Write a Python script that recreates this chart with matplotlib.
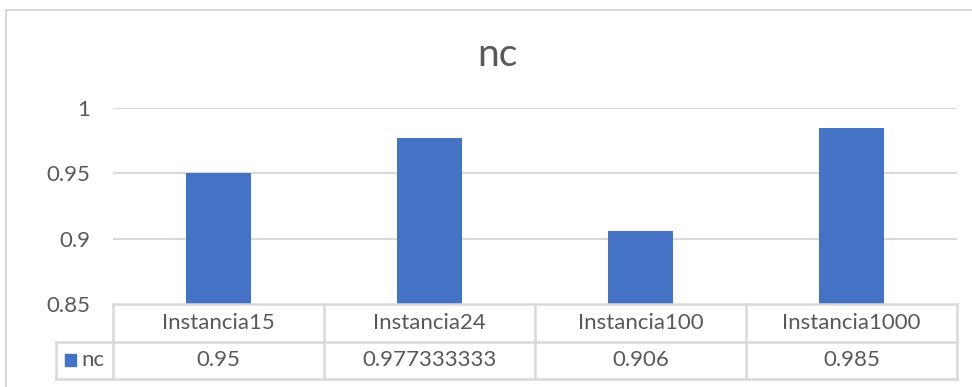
import matplotlib.pyplot as plt
from matplotlib.lines import Line2D
from matplotlib.patches import Rectangle
from matplotlib.transforms import blended_transform_factory

categories = ['Instancia15', 'Instancia24', 'Instancia100', 'Instancia1000']
values = [0.95, 0.977333333, 0.906, 0.985]
value_labels = ['0.95', '0.977333333', '0.906', '0.985']
series_name = 'nc'
y_ticks = [0.85, 0.9, 0.95, 1.0]
y_tick_labels = ['0.85', '0.9', '0.95', '1']

W, H = 972, 387
bar_color = '#4472C4'
text_color = '#595959'
line_color = '#D9D9D9'

plt.rcParams['font.family'] = ['Lato', 'DejaVu Sans']

fig = plt.figure(figsize=(W / 100, H / 100), dpi=100)


def fy(y):
    # pixel row from the top -> figure fraction
    return 1 - y / H


ax = fig.add_axes([113 / W, fy(304), (957 - 113) / W, (304 - 108) / H])

xs = list(range(len(categories)))
ax.bar(xs, values, width=0.31, color=bar_color, zorder=3)
ax.set_xlim(-0.5, len(categories) - 0.5)
ax.set_ylim(0.85, 1.0)
ax.set_yticks(y_ticks)
ax.set_yticklabels(y_tick_labels)
ax.set_xticks([])
ax.tick_params(axis='y', length=0, pad=16.5, labelsize=16, labelcolor=text_color)
for s in ax.spines.values():
    s.set_visible(False)
for t in y_ticks[1:]:
    ax.axhline(t, color=line_color, lw=1.5, zorder=1)

fig.text(497 / W, fy(55), series_name, ha='center', va='center',
         fontsize=28, color=text_color)

# data table under the plot: x follows the category axis, y in figure pixels
tr = blended_transform_factory(ax.transData, fig.transFigure)
row_top, row_mid, row_bot = 304, 342, 379
x_left = -0.5
x_right = len(categories) - 0.5
x_label = -0.5 - (113 - 56) / ((957 - 113) / len(categories))


def hline(x0, x1, y):
    fig.add_artist(Line2D([x0, x1], [fy(y), fy(y)], transform=tr,
                          color=line_color, lw=1.8))


def vline(x, y0, y1):
    fig.add_artist(Line2D([x, x], [fy(y0), fy(y1)], transform=tr,
                          color=line_color, lw=1.8))


hline(x_left, x_right, row_top)
hline(x_label, x_right, row_mid)
hline(x_label, x_right, row_bot)
for b in range(len(categories) + 1):
    vline(b - 0.5, row_top, row_bot)
vline(x_label, row_mid, row_bot)

for i, (cat, lab) in enumerate(zip(categories, value_labels)):
    fig.text(i, fy((row_top + row_mid) / 2), cat, transform=tr,
             ha='center', va='center', fontsize=16, color=text_color)
    fig.text(i, fy((row_mid + row_bot) / 2), lab, transform=tr,
             ha='center', va='center', fontsize=16, color=text_color)

# legend key in the row header
fig.add_artist(Rectangle((65 / W, fy(366)), 11 / W, 12 / H,
                         transform=fig.transFigure, color=bar_color))
fig.text(81 / W, fy((row_mid + row_bot) / 2), series_name, ha='left',
         va='center', fontsize=16, color=text_color)

# chart area border
fig.add_artist(Line2D([5.5 / W, 1], [fy(9.5), fy(9.5)],
                      transform=fig.transFigure, color=line_color, lw=1.5))
fig.add_artist(Line2D([5.5 / W, 5.5 / W], [fy(9.5), 0],
                      transform=fig.transFigure, color=line_color, lw=1.5))

fig.savefig('out.png', dpi=100)
